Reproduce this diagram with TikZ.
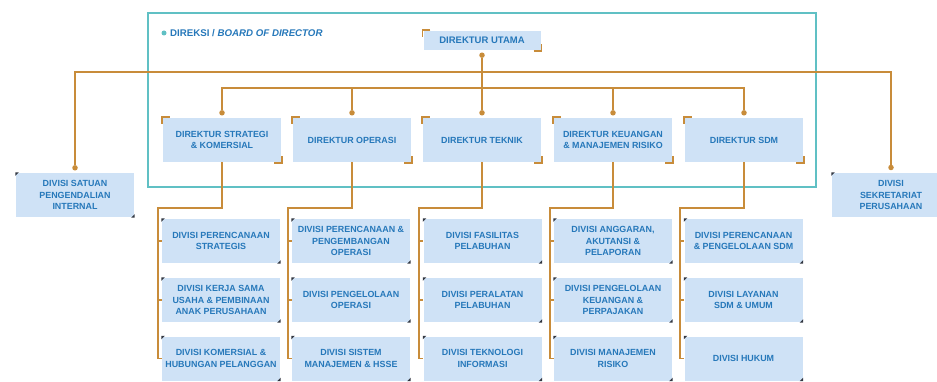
\documentclass[tikz,border=0pt]{standalone}
\usepackage{fontspec}
\setmainfont{Liberation Sans}
\definecolor{ocol}{RGB}{200,140,58}
\definecolor{bcol}{RGB}{207,226,246}
\definecolor{tcol}{RGB}{38,120,186}
\definecolor{fcol}{RGB}{96,192,196}
\definecolor{mcol}{RGB}{50,55,65}
\newcommand\boxfont{\fontsize{8.9}{11.5}\selectfont\bfseries}
\newcommand\dircorners[1]{%
  \draw[ocol,line width=1.7pt] ([xshift=7pt,yshift=0.8pt]#1.north west) -- ([xshift=-0.8pt,yshift=0.8pt]#1.north west) -- ([xshift=-0.8pt,yshift=-6pt]#1.north west);
  \draw[ocol,line width=1.7pt] ([xshift=-7pt,yshift=-0.8pt]#1.south east) -- ([xshift=0.8pt,yshift=-0.8pt]#1.south east) -- ([xshift=0.8pt,yshift=6pt]#1.south east);}
\newcommand\divcorners[1]{%
  \fill[mcol] ([xshift=-0.5pt,yshift=0.5pt]#1.north west) -- ++(3.5pt,0) -- ++(-3.5pt,-3.5pt) -- cycle;
  \fill[mcol] ([xshift=0.5pt,yshift=-0.5pt]#1.south east) -- ++(-3.5pt,0) -- ++(3.5pt,3.5pt) -- cycle;}
\begin{document}
\begin{tikzpicture}[x=1pt,y=-1pt,
  oline/.style={draw=ocol,line width=1.8pt},
  bx/.style={fill=bcol,text=tcol,minimum width=118pt,minimum height=44pt,inner sep=0pt,align=center,font=\boxfont},
  odot/.style={circle,fill=ocol,inner sep=0pt,minimum size=5.5pt}]
\useasboundingbox (0,0) rectangle (937,382);
\fill[white] (0,0) rectangle (937,382);
% frame
\draw[fcol,line width=1.3pt] (148,13) rectangle (816,187);
\node[circle,fill=fcol,inner sep=0pt,minimum size=5pt] (ldot) at (164,33) {};
\node[anchor=west,text=tcol,font=\fontsize{9.7}{11}\selectfont\bfseries,inner sep=0pt] (legend) at (170,33) {DIREKSI / \textit{BOARD OF DIRECTOR}};
% director utama
\node[bx,minimum width=117pt,minimum height=19pt,font=\fontsize{9.5}{11}\selectfont\bfseries] (du) at (482,40.5) {DIREKTUR UTAMA};
% directors
\node[bx] (d1) at (222,140) {DIREKTUR STRATEGI\\\& KOMERSIAL};
\node[bx] (d2) at (352,140) {DIREKTUR OPERASI};
\node[bx] (d3) at (482,140) {DIREKTUR TEKNIK};
\node[bx] (d4) at (613,140) {DIREKTUR KEUANGAN\\\& MANAJEMEN RISIKO};
\node[bx] (d5) at (744,140) {DIREKTUR SDM};
% side divisions
\node[bx] (sp) at (75,195) {DIVISI SATUAN\\PENGENDALIAN\\INTERNAL};
\begin{scope}
\clip (0,0) rectangle (937,382);
\node[bx] (ss) at (891,195) {DIVISI\\SEKRETARIAT\\PERUSAHAAN};
\end{scope}
% divisions
\node[bx] (v11) at (221,241) {DIVISI PERENCANAAN\\STRATEGIS};
\node[bx] (v12) at (221,300) {DIVISI KERJA SAMA\\USAHA \& PEMBINAAN\\ANAK PERUSAHAAN};
\node[bx] (v13) at (221,358.5) {DIVISI KOMERSIAL \&\\HUBUNGAN PELANGGAN};
\node[bx] (v21) at (351,241) {DIVISI PERENCANAAN \&\\PENGEMBANGAN\\OPERASI};
\node[bx] (v22) at (351,300) {DIVISI PENGELOLAAN\\OPERASI};
\node[bx] (v23) at (351,358.5) {DIVISI SISTEM\\MANAJEMEN \& HSSE};
\node[bx] (v31) at (482.5,241) {DIVISI FASILITAS\\PELABUHAN};
\node[bx] (v32) at (482.5,300) {DIVISI PERALATAN\\PELABUHAN};
\node[bx] (v33) at (482.5,358.5) {DIVISI TEKNOLOGI\\INFORMASI};
\node[bx] (v41) at (613,241) {DIVISI ANGGARAN,\\AKUTANSI \&\\PELAPORAN};
\node[bx] (v42) at (613,300) {DIVISI PENGELOLAAN\\KEUANGAN \&\\PERPAJAKAN};
\node[bx] (v43) at (613,358.5) {DIVISI MANAJEMEN\\RISIKO};
\node[bx] (v51) at (743.5,241) {DIVISI PERENCANAAN\\\& PENGELOLAAN SDM};
\node[bx] (v52) at (743.5,300) {DIVISI LAYANAN\\SDM \& UMUM};
\node[bx] (v53) at (743.5,358.5) {DIVISI HUKUM};
% corners
\dircorners{du}
\foreach \n in {d1,d2,d3,d4,d5} {\dircorners{\n}}
\divcorners{sp}
\fill[mcol] ([xshift=-0.5pt,yshift=0.5pt]ss.north west) -- ++(3.5pt,0) -- ++(-3.5pt,-3.5pt) -- cycle;
\foreach \n in {v11,v12,v13,v21,v22,v23,v31,v32,v33,v41,v42,v43,v51,v52,v53} {\divcorners{\n}}
% top dots
\node[odot] (pdu) at ([yshift=-5pt]du.south) {};
\foreach \n in {d1,d2,d3,d4,d5} {\node[odot] (p\n) at ([yshift=5pt]\n.north) {};}
\node[odot] (psp) at ([yshift=5pt]sp.north) {};
\node[odot] (pss) at (891,167.5) {};
% top connectors
\coordinate (bl) at (75,72);
\coordinate (br) at (891,72);
\draw[oline] (pdu) -- (pd3);
\draw[oline] (psp) -- (bl) -- (br) -- (pss);
\draw[oline] (pd1) |- (pd3 |- 0,88) -| (pd5);
\draw[oline] (pd2) -- (pd2 |- 0,88);
\draw[oline] (pd4) -- (pd4 |- 0,88);
% combs
\foreach \c/\d in {1/d1,2/d2,3/d3,4/d4,5/d5} {
  \coordinate (k\c) at ([xshift=-4pt]v\c1.west |- 0,208);
  \draw[oline] (\d.south) |- (k\c) -- ([xshift=-4pt]v\c3.west) -- (v\c3.west);
  \draw[oline] ([xshift=-4pt]v\c1.west) -- (v\c1.west);
  \draw[oline] ([xshift=-4pt]v\c2.west) -- (v\c2.west);
}
\end{tikzpicture}
\end{document}
